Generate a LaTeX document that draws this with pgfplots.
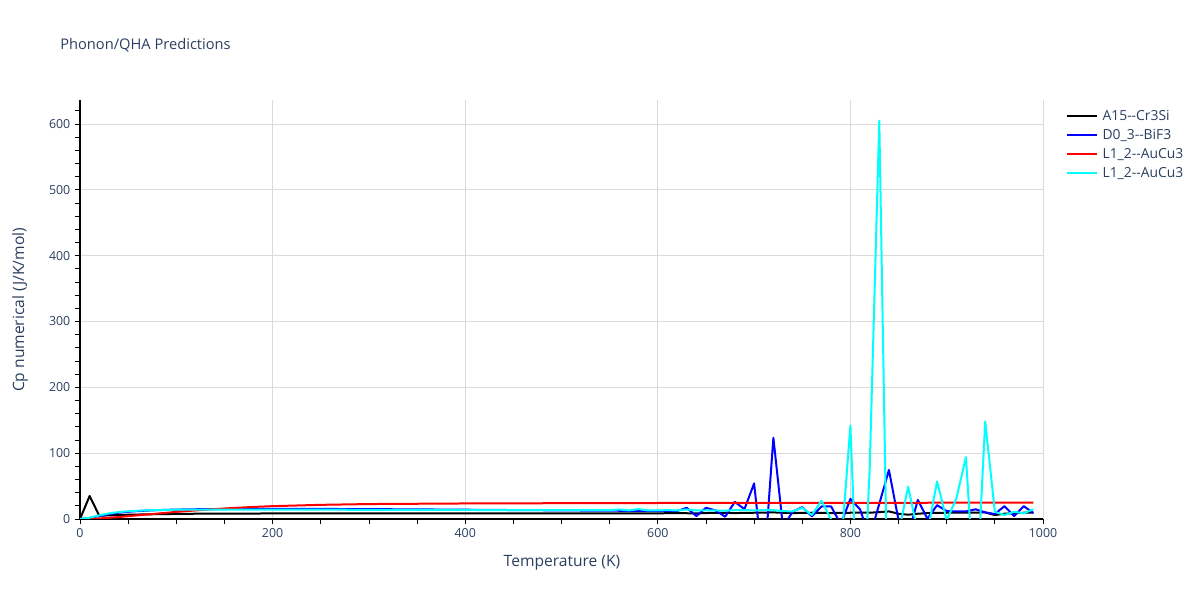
\documentclass[border=0pt]{standalone}
\usepackage{fontspec}
\setmainfont{Open Sans}
\usepackage{pgfplots}
\pgfplotsset{compat=1.18}
\definecolor{txt}{HTML}{2A3F5F}
\definecolor{grd}{RGB}{218,218,218}
\definecolor{cyn}{RGB}{0,255,255}
\definecolor{blu}{RGB}{0,0,255}
\definecolor{rd}{RGB}{255,0,0}
\begin{document}
\begin{tikzpicture}
\path[use as bounding box] (0pt,0pt) rectangle (900pt,450pt);
\begin{axis}[
 at={(60pt,60.75pt)}, anchor=south west, scale only axis,
 width=722.25pt, height=314.25pt,
 xmin=0, xmax=1000, ymin=0, ymax=636.5,
 axis lines=left, axis line style={-, black, line width=0.8pt},
 xtick={0,200,...,1000}, ytick={0,100,...,600},
 minor xtick={50,100,...,950}, minor ytick={20,40,...,620},
 tick align=outside, major tick length=3.75pt, minor tick length=3.75pt,
 tick style={black, line width=0.6pt},
 grid=major, major grid style={grd, line width=0.75pt},
 ticklabel style={font=\fontsize{9.3}{10}\selectfont, text=txt},
 /pgf/number format/assume math mode=true,
 /pgf/number format/1000 sep={},
 scaled ticks=false,
 legend style={at={(rel axis cs:1,1)}, anchor=north west, xshift=14pt, yshift=-3.3pt,
   draw=none, fill=none, font=\fontsize{10.4}{11}\selectfont, text=txt,
   row sep=1.2pt, cells={anchor=west},
   /tikz/every odd column/.append style={column sep=1.5pt}},
 legend image code/.code={\draw[#1, line width=1.5pt] (0pt,0pt) -- (22.5pt,0pt);},
 every axis plot/.append style={line width=1.5pt, line join=round},
]
\addplot[black, mark=none] coordinates {
(0,0) (10,35) (20,5) (30,5.5) (40,6) (50,6.5) (60,6.8) (70,7.1) (80,7.3) (90,7.5) (100,7.7)
(120,8.0) (150,8.2) (200,8.4) (300,8.5) (400,8.4) (500,8.4) (600,8.6)
(620,9) (640,8.5) (660,9.5) (680,9) (700,9.5) (720,10) (740,9) (760,9.5) (780,9) (800,9.5)
(820,9.5) (840,11.5) (850,8) (860,6.5) (870,8) (880,9) (900,9.5) (920,9.5) (940,10) (950,6)
(960,8) (970,9) (980,9.5) (990,9.5)};
\addlegendentry{A15-{}-Cr3Si}
\addplot[blu, mark=none] coordinates {
(0,0) (10,1.5) (20,4.5) (30,7.5) (40,9.5) (50,11) (60,12) (70,12.8) (80,13.4) (90,13.9) (100,14.3)
(120,14.8) (150,15.2) (200,15.4) (250,15.3) (300,15) (350,14.6) (400,14.1) (450,13.6) (500,13.1)
(550,12.6) (600,12.2) (610,12) (620,12) (630,17) (640,4.5) (650,17) (660,13) (670,3.5) (680,26)
(690,15) (700,54) (710,-81) (720,123.5) (730,-12) (740,11) (750,18) (760,4) (770,19) (780,19)
(790,-8) (800,30.5) (810,14.7) (820,-28) (830,23) (840,74.5) (850,-2) (860,-25) (870,29) (880,0.5)
(890,21) (900,12) (910,11.5) (920,11.5) (930,14.7) (940,10) (950,7.6) (960,19.5) (970,4.5)
(980,19.5) (990,9)};
\addlegendentry{D0\_3-{}-BiF3}
\addplot[rd, mark=none] coordinates {
(0,0) (10,0.2) (20,0.8) (30,1.8) (40,3.0) (50,4.3) (60,5.6) (70,6.9) (80,8.2) (90,9.5) (100,10.8)
(120,13) (140,15) (160,16.8) (180,18.3) (200,19.5) (250,21.5) (300,22.7) (400,23.6) (500,24)
(600,24.3) (700,24.5) (800,24.6) (900,24.7) (990,24.8)};
\addlegendentry{L1\_2-{}-AuCu3}
\addplot[cyn, mark=none] coordinates {
(0,0) (10,2) (20,5.5) (30,8.5) (40,10.5) (50,11.8) (60,12.6) (70,13.2) (80,13.6) (90,13.9) (100,14.1)
(150,14.3) (200,14.2) (300,14) (400,13.7) (500,13.4) (550,13.3) (560,14.5) (570,13) (580,15)
(590,13) (600,13) (610,13.5) (620,13) (630,14.5) (640,13) (650,13) (660,13) (670,12.5) (680,13.5)
(690,13.5) (700,13) (710,13.5) (720,13.5) (730,12) (740,11.5) (750,17) (760,6) (770,28) (780,-1)
(790,-50) (800,142) (810,-237) (820,75) (830,605) (840,-259) (850,-21) (860,49) (870,-21) (880,-21)
(890,57) (900,-2) (910,31) (920,94) (930,-141) (940,148) (950,11) (960,6) (970,11) (980,8.6) (990,14.6)};
\addlegendentry{L1\_2-{}-AuCu3}
\end{axis}
\node[anchor=west, inner sep=0pt, text=txt, font=\fontsize{11}{13}\selectfont] at (45pt,416.25pt) {Phonon/QHA Predictions};
\node[text=txt, font=\fontsize{11.7}{13}\selectfont] at (421.5pt,27.75pt) {Temperature (K)};
\node[text=txt, font=\fontsize{11.7}{13}\selectfont, rotate=90] at (15pt,217.5pt) {Cp numerical (J/K/mol)};
\end{tikzpicture}
\end{document}
